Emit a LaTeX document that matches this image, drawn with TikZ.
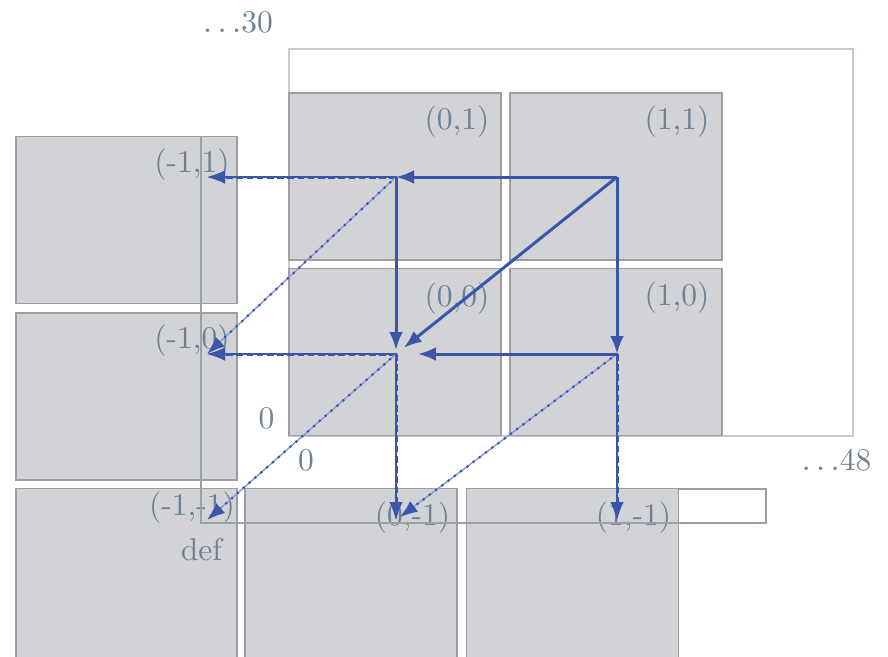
\documentclass[tikz,border=0pt]{standalone}
\usepackage{xcolor}
\usepackage{tikz}
\usetikzlibrary{
  arrows.meta,
  positioning
}
\definecolor{tilefill}{HTML}{D1D3D6}
\definecolor{tiledraw}{HTML}{9C9EA1}
\definecolor{framegrey}{HTML}{C5CBD4}
\definecolor{defgrey}{HTML}{9AA0A6}
\definecolor{labelgrey}{HTML}{6F8090}
\definecolor{wrapblue}{HTML}{3B55A8}
\definecolor{lightblue}{HTML}{8C9BD2}
\tikzset{
  tile/.style={
    rectangle, draw=tiledraw, fill=tilefill, line width=0.5pt,
    minimum width=70.67pt, minimum height=55.67pt, inner sep=0pt
  },
  widetile/.style={
    tile, minimum width=73.67pt
  },
  lowtile/.style={
    minimum height=57pt
  },
  tilelabel/.style={
    font=\fontsize{10.5}{12}\selectfont, text=labelgrey, inner sep=0pt
  },
  mainarrow/.style={
    -{Latex[length=6pt,width=4.6pt]}, wrapblue, line width=1pt
  },
  straightwrap/.style={
    -{Latex[length=6pt,width=4.4pt]}, wrapblue, line width=1pt,
    dash pattern=on 2.2pt off 1.2pt,
    preaction={draw, wrapblue, line width=0.4pt, solid,
      -{Latex[length=6pt,width=4.4pt]}}
  },
  diagwrap/.style={
    -{Latex[length=6pt,width=4.4pt]}, wrapblue, line width=1pt,
    dash pattern=on 0pt off 2.6pt, line cap=round,
    preaction={draw, lightblue, line width=0.5pt, solid, line cap=butt,
      -{Latex[length=6pt,width=4.4pt]}}
  },
}
\begin{document}
\begin{tikzpicture}[x={(0.33333pt,0)}, y={(0,-0.33333pt)}]
  \useasboundingbox (0,0) rectangle (888,656);
  \clip (0,0) rectangle (888,656);

  %% outer frame
  \draw[framegrey, line width=0.4pt] (289,49) rectangle (853,436);

  %% tiles
  \node[tile] (t01) at (395,176.5) {};
  \node[tile] (t11) at (616,176.5) {};
  \node[tile] (t00) at (395,352) {};
  \node[tile] (t10) at (616,352) {};
  \node[widetile] (tm11) at (126.5,220) {};
  \node[widetile] (tm10) at (126.5,396.5) {};
  \node[widetile, lowtile] (tm1m1) at (126.5,574) {};
  \node[tile, lowtile] (t0m1) at (351,574) {};
  \node[tile, lowtile] (t1m1) at (572.5,574) {};

  %% tile labels
  \node[tilelabel] (l01) at (457,122) {(0,1)};
  \node[tilelabel] (l11) at (677,122) {(1,1)};
  \node[tilelabel] (l00) at (457,299) {(0,0)};
  \node[tilelabel] (l10) at (677,298) {(1,0)};
  \node[tilelabel] (lm11) at (192,165) {(-1,1)};
  \node[tilelabel] (lm10) at (192,341) {(-1,0)};
  \node[tilelabel] (lm1m1) at (192,508) {(-1,-1)};
  \node[tilelabel] (l0m1) at (412.5,518) {(0,-1)};
  \node[tilelabel] (l1m1) at (633.5,518) {(1,-1)};

  %% extents
  \node[tilelabel] (h30) at (238,22) {$\ldots$30};
  \node[tilelabel] (w48) at (836.5,460) {$\ldots$48};
  \node[tilelabel] (zeroy) at (266.5,418) {0};
  \node[tilelabel] (zerox) at (306,460) {0};
  \node[tilelabel] (deflabel) at (201.5,549.5) {def};

  %% default region
  \draw[defgrey, line width=0.4pt]
    (201,137) -- (201,523) -- (766,523) -- (766,489) -- (679,489);

  %% sample points
  \coordinate (p01) at (396,177);
  \coordinate (p11) at (617,177);
  \coordinate (p00) at (396,354);
  \coordinate (p10) at (617,354);
  \coordinate (qm11) at (207,177);
  \coordinate (qm10) at (207,354);
  \coordinate (qm1m1) at (207,520);
  \coordinate (q0m1) at (396,520);
  \coordinate (q1m1) at (617,520);

  %% wrapped neighbours
  \draw[straightwrap] (p01) -- (qm11);
  \draw[diagwrap] (p01) -- (qm10);
  \draw[straightwrap] (p00) -- (qm10);
  \draw[diagwrap] (p00) -- (qm1m1);
  \draw[straightwrap] (p00) -- (q0m1);
  \draw[diagwrap, shorten >=1.5pt] (p10) -- (q0m1);
  \draw[straightwrap] (p10) -- (q1m1);

  %% inner neighbours
  \draw[mainarrow] (p11) -- (p01);
  \draw[mainarrow] (p11) -- (p10);
  \draw[mainarrow, shorten >=3.3pt] (p11) -- (p00);
  \draw[mainarrow, shorten >=1.3pt] (p01) -- (p00);
  \draw[mainarrow, shorten >=7.3pt] (p10) -- (p00);
\end{tikzpicture}
\end{document}
